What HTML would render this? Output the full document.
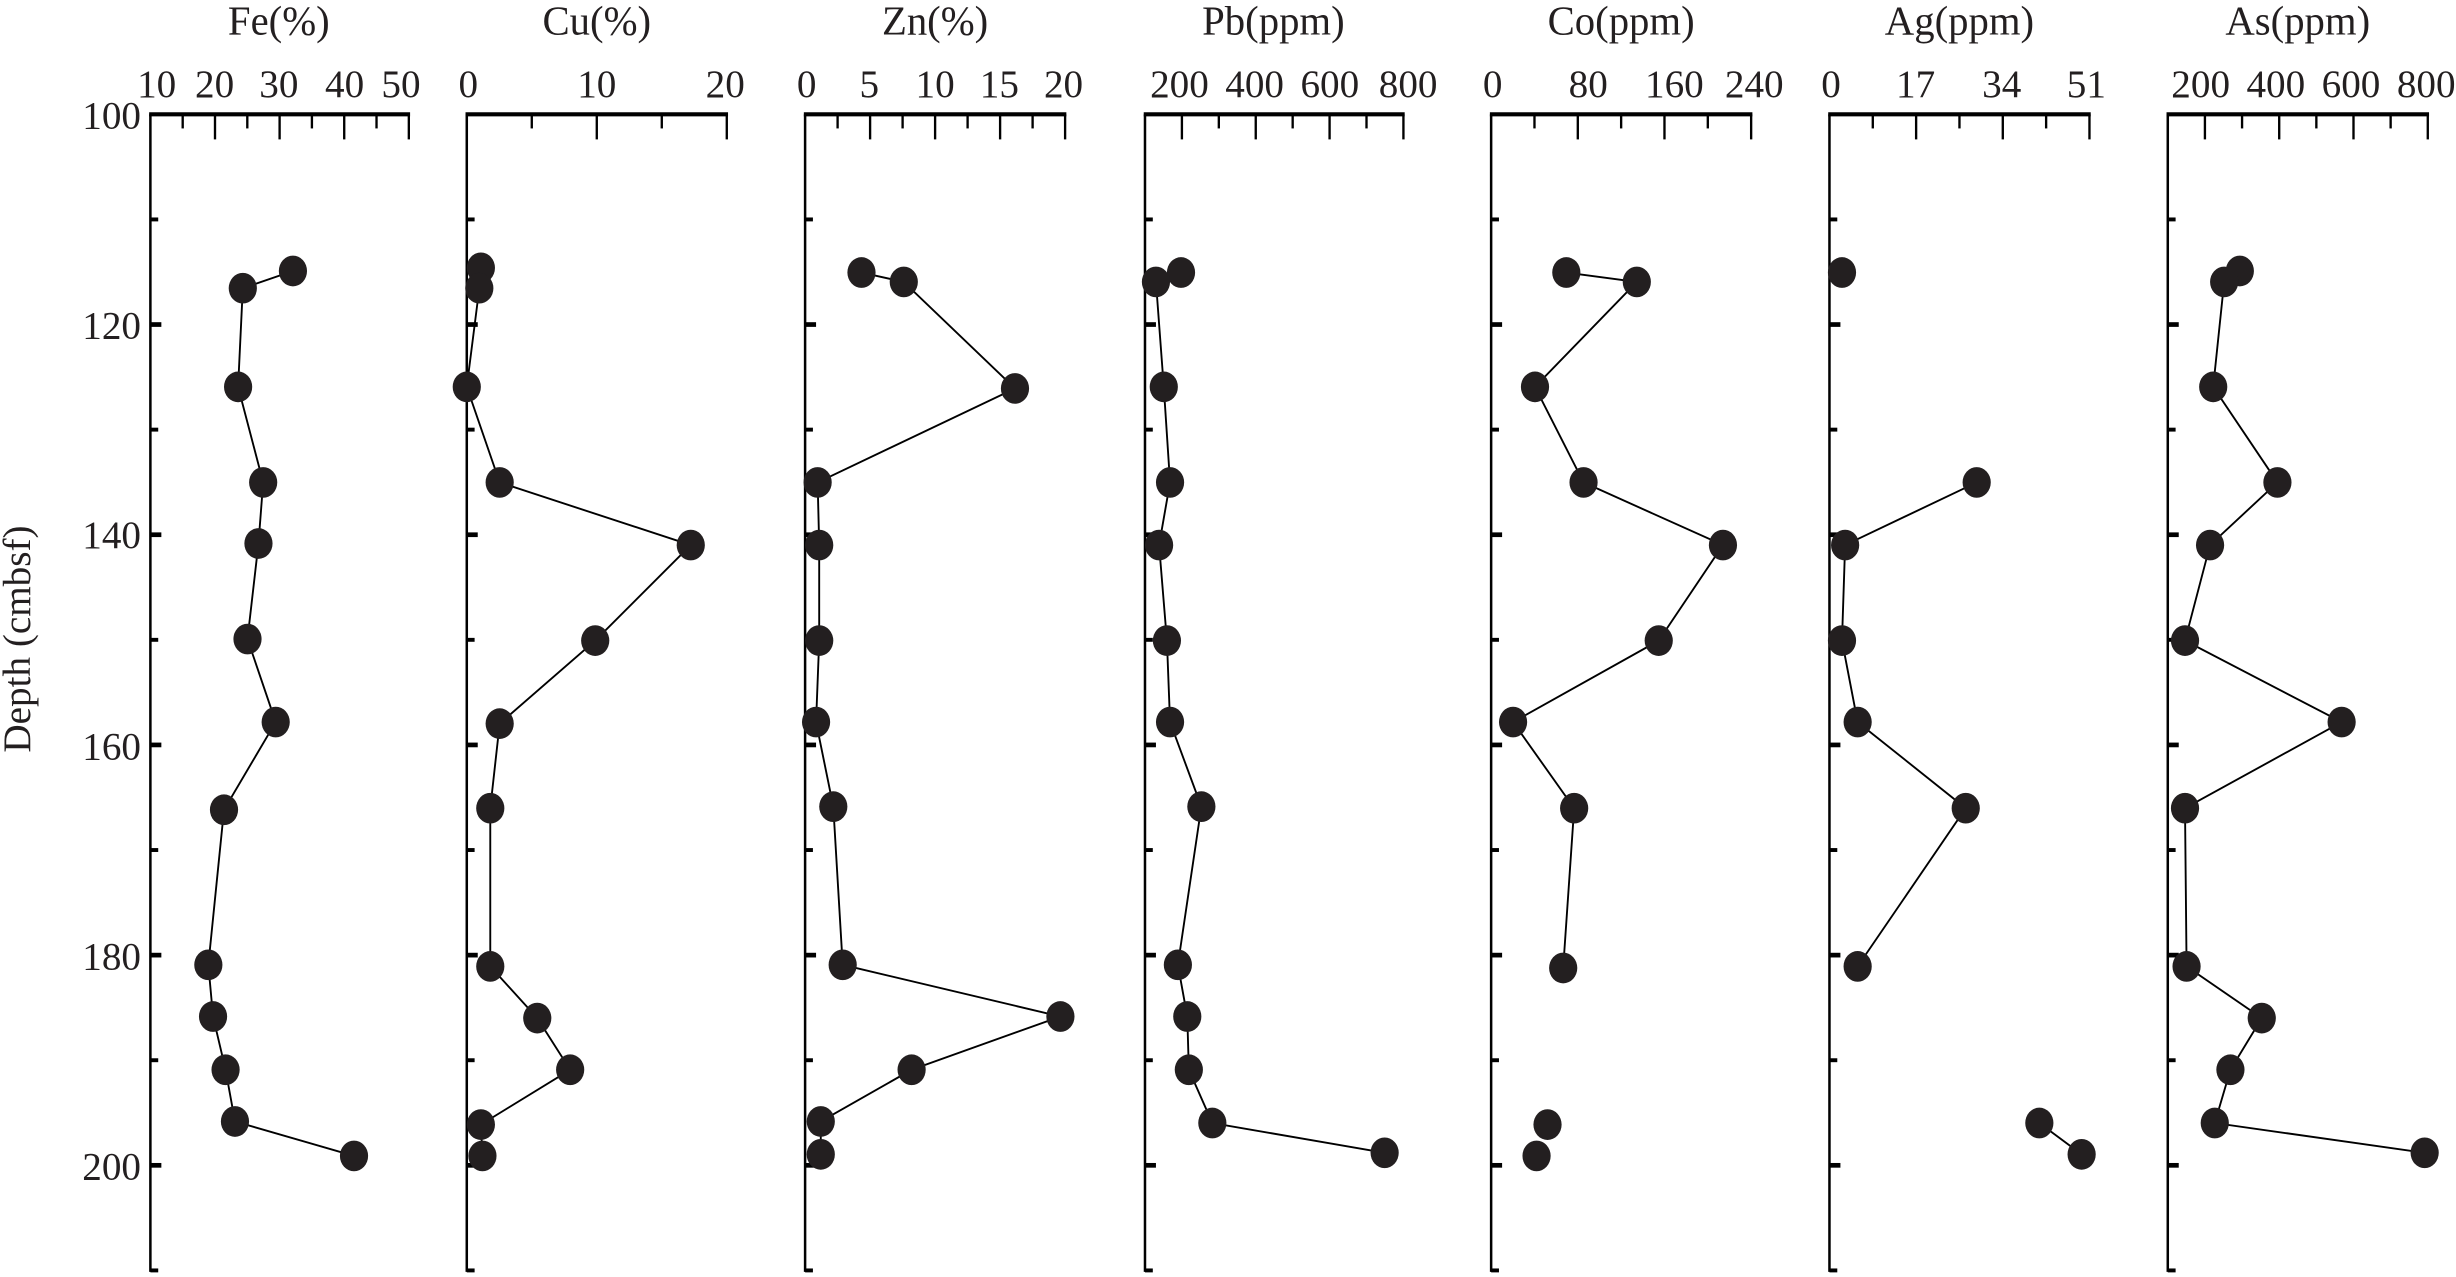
<!DOCTYPE html>
<html><head><meta charset="utf-8"><style>
html,body{margin:0;padding:0;background:#fff;}
svg{display:block;}
text{font-family:"Liberation Serif",serif;fill:#231f20;}
</style></head><body>
<svg id="s" width="2456" height="1277" viewBox="0 0 1568 815.3" xmlns="http://www.w3.org/2000/svg">
<g font-size="26" text-anchor="middle">
<text x="178" y="22">Fe(%)</text>
<text x="381" y="22">Cu(%)</text>
<text x="597" y="22">Zn(%)</text>
<text x="813" y="22">Pb(ppm)</text>
<text x="1035" y="22">Co(ppm)</text>
<text x="1251" y="22">Ag(ppm)</text>
<text x="1467" y="22">As(ppm)</text>
</g>
<g font-size="25" text-anchor="middle">
<text x="100" y="62">10</text><text x="137" y="62">20</text><text x="178" y="62">30</text><text x="220" y="62">40</text><text x="256" y="62">50</text>
<text x="299" y="62">0</text><text x="381" y="62">10</text><text x="463" y="62">20</text>
<text x="515" y="62">0</text><text x="555" y="62">5</text><text x="597" y="62">10</text><text x="638" y="62">15</text><text x="679" y="62">20</text>
<text x="753" y="62">200</text><text x="801" y="62">400</text><text x="849" y="62">600</text><text x="899" y="62">800</text>
<text x="953" y="62">0</text><text x="1014" y="62">80</text><text x="1069" y="62">160</text><text x="1120" y="62">240</text>
<text x="1169" y="62">0</text><text x="1223" y="62">17</text><text x="1278" y="62">34</text><text x="1332" y="62">51</text>
<text x="1405" y="62">200</text><text x="1453" y="62">400</text><text x="1501" y="62">600</text><text x="1549" y="62">800</text>
</g>
<g font-size="25" text-anchor="end">
<text x="90" y="82">100</text><text x="90" y="216">120</text><text x="90" y="350">140</text>
<text x="90" y="485">160</text><text x="90" y="619">180</text><text x="90" y="753">200</text>
</g>
<text font-size="25" text-anchor="middle" transform="translate(19,408) rotate(-90)">Depth (cmbsf)</text>
<g id="g"></g>
</svg>
<script>
var g=document.getElementById('g'),NS='http://www.w3.org/2000/svg';
function el(t,a){var e=document.createElementNS(NS,t);for(var k in a)e.setAttribute(k,a[k]);g.appendChild(e);return e;}
function Y(d){return 73+(d-100)*6.71;}
var P=[
[96,261,10,50,5,10,[[187,173],[155,184],[152,247],[168,308],[165,347],[158,408],[176,461],[143,517],[133,616],[136,649],[144,683],[150,716],[226,738]],[]],
[298,464,0,20,5,10,[[307,171],[306,184],[298,247],[319,308],[441,348],[380,409],[319,462],[313,516],[313,617],[343,650],[364,683],[307,718],[308,738]],[]],
[514,680,0,20,2.5,5,[[550,174],[577,180],[648,248],[522,308],[523,348],[523,409],[521,461],[532,515],[538,616],[677,649],[582,683],[524,716],[524,737]],[]],
[731,896,100,800,100,200,[[754,174],[738,180],[743,247],[747,308],[740,348],[745,409],[747,461],[767,515],[752,616],[758,649],[759,683],[774,717],[884,736]],[]],
[952,1118,0,240,40,80,[[1000,174],[1045,180],[980,247],[1011,308],[1100,348],[1059,409],[966,461],[1005,516],[998,618]],[[988,718],[981,738]]],
[1168,1334,0,51,8.5,17,[[1262,308],[1178,348],[1176,409],[1186,461],[1255,516],[1186,617]],[[1176,174]],[[1302,717],[1329,737]]],
[1384,1550,100,800,100,200,[[1430,173],[1420,180],[1413,247],[1454,308],[1411,348],[1395,409],[1495,461],[1395,516],[1396,617],[1444,650],[1424,683],[1414,717],[1548,736]],[]]
];
P.forEach(function(p){
 var L=p[0],R=p[1];
 el('line',{x1:L,y1:73,x2:L,y2:812,stroke:'#000','stroke-width':1.6});
 el('line',{x1:L-0.8,y1:73,x2:R+0.8,y2:73,stroke:'#000','stroke-width':2.6});
 var n=Math.round((p[3]-p[2])/p[4]);
 for(var i=1;i<=n;i++){var v=p[2]+i*p[4];var x=L+(R-L)*i/n;
  var maj=Math.abs((v/p[5])-Math.round(v/p[5]))<1e-6;
  el('line',{x1:x,y1:73,x2:x,y2:73+(maj?16:9),stroke:'#000','stroke-width':1.5});}
 for(var d=110;d<=210;d+=10){var maj=d%20==0;
  el('line',{x1:L,y1:Y(d),x2:L+(maj?7:5),y2:Y(d),stroke:'#000','stroke-width':maj?3:2.5});}
 var lines=[p[6]].concat(p.slice(8));
 lines.forEach(function(s){if(s.length>1)el('polyline',{points:s.map(function(q){return q.join(',')}).join(' '),fill:'none',stroke:'#000','stroke-width':1.2});});
 var all=p[6].concat(p[7]);p.slice(8).forEach(function(s){all=all.concat(s);});
 all.forEach(function(q){el('ellipse',{cx:q[0],cy:q[1],rx:9,ry:9.8,fill:'#231f20'});});
});
</script>
</body></html>
